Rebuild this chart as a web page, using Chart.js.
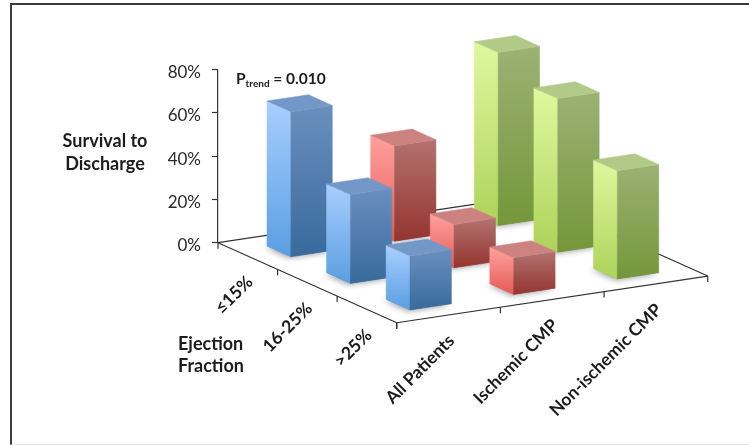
<!DOCTYPE html>
<html>
<head>
<meta charset="utf-8">
<title>Survival to Discharge</title>
<script src="https://cdn.jsdelivr.net/npm/chart.js@4"></script>
<style>
  html, body { margin: 0; padding: 0; background: #fff; overflow: hidden; }
  #wrap { position: relative; width: 749px; height: 445px; }
  #frame {
    position: absolute; left: 10px; top: 3px; right: -4px; bottom: 0;
    border: 2px solid #3c3c3c; border-bottom: 1px solid #e4e4e4; border-right: 0;
  }
  canvas { position: absolute; left: 0; top: 0; }
</style>
</head>
<body>
<div id="wrap">
  <div id="frame"></div>
  <canvas id="survivalChart" width="749" height="445"></canvas>
</div>
<script>
const groups = ["All Patients", "Ischemic CMP", "Non-ischemic CMP"];
const ejectionFractions = ["\u226415%", "16-25%", ">25%"];
const yTicks = [0, 20, 40, 60, 80];

const allPatients = [67, 41, 25];
const ischemicCmp = [44, 20, 17];
const nonIschemicCmp = [80, 71, 50];

const palette = [
  { top: "#7398c8", left: ["#a9cffe", "#5a9ee2"], right: ["#6a8fbe", "#386a9c"] },
  { top: "#cc8380", left: ["#ffa19d", "#e55b55"], right: ["#b37270", "#94352f"] },
  { top: "#b2ca88", left: ["#def99e", "#aed25a"], right: ["#9bb274", "#75963a"] },
];

const FONT = "Lato, sans-serif";
const TEXT = "#1c1c1c";
const RISE_PER_X = -0.15;   // floor slope along the group axis
const FALL_PER_Z = 0.4477;  // floor slope along the ejection fraction axis
const BAR_GAP = 0.3;        // gap either side of a bar, in category units

function toDataset(values, i) {
  return {
    label: groups[i],
    data: values.map((v, j) => ({ x: i, y: v, z: j })),
    pointRadius: 0,
  };
}

// maps a floor position and a height onto the canvas through the chart scales
function project(chart, x, z, v) {
  const { x: xs, z: zs, y: ys } = chart.scales;
  const dx = xs.getPixelForValue(x) - xs.left;
  const dz = zs.getPixelForValue(z) - zs.left;
  return {
    x: xs.left + dx + dz,
    y: ys.getPixelForValue(v) + dx * RISE_PER_X + dz * FALL_PER_Z,
  };
}

function poly(ctx, pts) {
  ctx.beginPath();
  pts.forEach((p, k) => (k ? ctx.lineTo(p.x, p.y) : ctx.moveTo(p.x, p.y)));
  ctx.closePath();
}

function shade(ctx, pts, fill) {
  poly(ctx, pts);
  ctx.fillStyle = fill;
  ctx.strokeStyle = fill;
  ctx.lineWidth = 0.5;
  ctx.fill();
  ctx.stroke();
}

function vGradient(ctx, y0, y1, stops) {
  const g = ctx.createLinearGradient(0, y0, 0, y1);
  g.addColorStop(0, stops[0]);
  g.addColorStop(1, stops[1]);
  return g;
}

function barCorners(chart, pt) {
  const x0 = pt.x + BAR_GAP, x1 = pt.x + 1 - BAR_GAP;
  const z0 = pt.z + BAR_GAP, z1 = pt.z + 1 - BAR_GAP;
  const at = (x, z, v) => project(chart, x, z, v);
  return {
    floor: [at(x0, z0, 0), at(x1, z0, 0), at(x1, z1, 0), at(x0, z1, 0)],
    roof: [at(x0, z0, pt.y), at(x1, z0, pt.y), at(x1, z1, pt.y), at(x0, z1, pt.y)],
  };
}

function drawBar(ctx, chart, pt, colors) {
  const { floor, roof } = barCorners(chart, pt);
  const left = [roof[0], roof[3], floor[3], floor[0]];
  const right = [roof[3], roof[2], floor[2], floor[3]];
  shade(ctx, left, vGradient(ctx, roof[0].y, floor[3].y, colors.left));
  shade(ctx, right, vGradient(ctx, roof[2].y, floor[3].y, colors.right));
  shade(ctx, roof, colors.top);
}

function drawFloor(ctx, chart) {
  const line = (a, b) => {
    ctx.beginPath();
    ctx.moveTo(a.x, a.y);
    ctx.lineTo(b.x, b.y);
    ctx.stroke();
  };
  const at = (x, z) => project(chart, x, z, 0);
  ctx.strokeStyle = "#333";
  ctx.lineWidth = 1.2;
  line(at(0, 0), at(3, 0));
  line(at(3, 0), at(3, 3));
  line(at(0, 0), at(0, 3));
  line(at(0, 3), at(3, 3));
  for (let k = 0; k <= 3; k++) {
    const a = at(0, k), b = at(k, 3);
    line(a, { x: a.x, y: a.y + 6 });
    line(b, { x: b.x, y: b.y + 6 });
  }
}

function slanted(ctx, text, p) {
  ctx.save();
  ctx.translate(p.x, p.y);
  ctx.rotate(-Math.PI / 4);
  ctx.textAlign = "right";
  ctx.textBaseline = "middle";
  ctx.fillText(text, 0, 0);
  ctx.restore();
}

const bars3d = {
  id: "bars3d",
  beforeDatasetsDraw(chart) {
    const ctx = chart.ctx;
    const points = chart.data.datasets.flatMap((ds, i) => ds.data.map((pt) => ({ pt, colors: palette[i] })));
    points.sort((a, b) => a.pt.z - b.pt.z || a.pt.x - b.pt.x);

    ctx.save();
    drawFloor(ctx, chart);

    // soft contact shadow on the floor
    points.forEach(({ pt }) => {
      ctx.save();
      ctx.shadowColor = "rgba(0,0,0,0.4)";
      ctx.shadowBlur = 6;
      ctx.shadowOffsetX = -2;
      ctx.shadowOffsetY = 1;
      poly(ctx, barCorners(chart, pt).floor);
      ctx.fillStyle = "#888";
      ctx.fill();
      ctx.restore();
    });

    points.forEach(({ pt, colors }) => drawBar(ctx, chart, pt, colors));
    ctx.restore();
  },
  afterDatasetsDraw(chart) {
    const ctx = chart.ctx;
    ctx.save();
    ctx.fillStyle = TEXT;

    ctx.font = "bold 17.5px " + FONT;
    groups.forEach((label, i) => {
      const p = project(chart, i + 0.5, 3, 0);
      slanted(ctx, label, { x: p.x + 3, y: p.y + 23 });
    });
    ejectionFractions.forEach((label, j) => {
      const p = project(chart, 0, j + 0.5, 0);
      slanted(ctx, label, { x: p.x + 2, y: p.y + 23 });
    });

    ctx.font = "bold 18px " + FONT;
    ctx.textBaseline = "alphabetic";
    ctx.textAlign = "center";
    ctx.fillText("Survival to", 105, 147);
    ctx.fillText("Discharge", 105, 170);
    ctx.textAlign = "left";
    ctx.fillText("Ejection", 178, 350);
    ctx.fillText("Fraction", 178, 372);

    ctx.font = "bold 15.5px " + FONT;
    ctx.fillText("P", 236, 84);
    const pw = ctx.measureText("P").width;
    ctx.font = "bold 10px " + FONT;
    ctx.fillText("trend", 236 + pw, 87);
    const sw = ctx.measureText("trend").width;
    ctx.font = "bold 15.5px " + FONT;
    ctx.fillText(" = 0.010", 236 + pw + sw, 84);
    ctx.restore();
  },
};

new Chart(document.getElementById("survivalChart"), {
  type: "scatter",
  plugins: [bars3d],
  data: {
    datasets: [allPatients, ischemicCmp, nonIschemicCmp].map(toDataset),
  },
  options: {
    responsive: false,
    animation: false,
    layout: { padding: { left: 158, right: 220, top: 69.5, bottom: 202.3 } },
    plugins: { legend: { display: false }, tooltip: { enabled: false } },
    scales: {
      x: { type: "linear", min: 0, max: 3, display: false },
      z: { type: "linear", axis: "x", position: "bottom", min: 0, max: 5.22, display: false },
      y: {
        min: 0,
        max: 80,
        afterFit(scale) { scale.width = 60; },
        afterBuildTicks(scale) { scale.ticks = yTicks.map((value) => ({ value })); },
        border: { color: "#333", width: 1.2 },
        grid: { drawOnChartArea: false, color: "#333", tickLength: 6, tickWidth: 1.2 },
        ticks: {
          padding: 11,
          color: "#2a2a2a",
          // the blank first line drops each label a little below its tick
          font: { family: "Lato", size: 17, lineHeight: "6px" },
          callback: (v) => ["", v + "%"],
        },
      },
    },
  },
});
</script>
</body>
</html>
